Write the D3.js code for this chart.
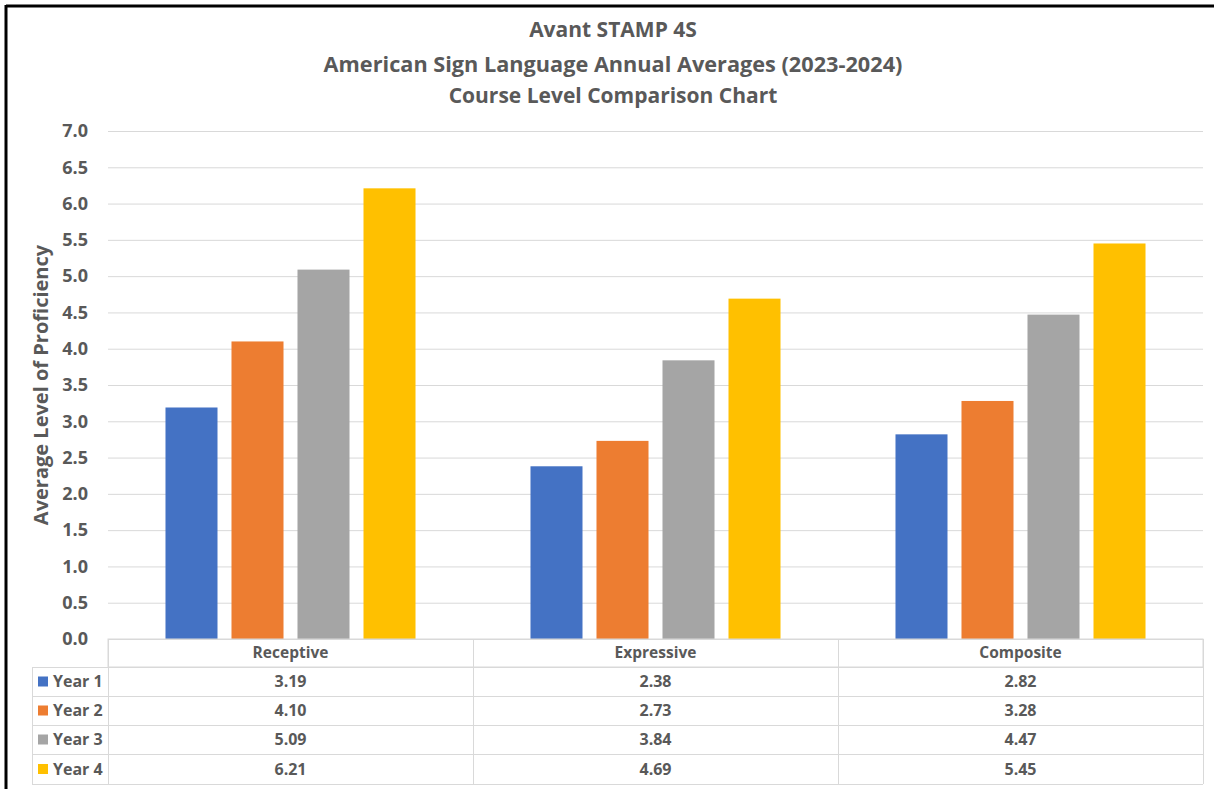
<!DOCTYPE html>
<html><head><meta charset="utf-8">
<script src="https://cdn.jsdelivr.net/npm/d3@7"></script>
<style>body{margin:0;background:#fff;} svg{display:block;font-family:"Open Sans", sans-serif;}</style>
</head><body>
<svg id="c" width="1214" height="789"></svg>
<script>
const categories = ["Receptive", "Expressive", "Composite"];
const seriesNames = ["Year 1", "Year 2", "Year 3", "Year 4"];
const year1 = [3.19, 2.38, 2.82];
const year2 = [4.10, 2.73, 3.28];
const year3 = [5.09, 3.84, 4.47];
const year4 = [6.21, 4.69, 5.45];
const seriesValues = [year1, year2, year3, year4];
const colors = ["#4472C4", "#ED7D31", "#A5A5A5", "#FFC000"];
const yTicks = [0, 0.5, 1, 1.5, 2, 2.5, 3, 3.5, 4, 4.5, 5, 5.5, 6, 6.5, 7];
const titleLines = ["Avant STAMP 4S", "American Sign Language Annual Averages (2023-2024)", "Course Level Comparison Chart"];

const svg = d3.select("#c");
const textCol = "#595959", gridCol = "#d9d9d9";
const L = 108, R = 1203, T = 131, B = 639;

// outer border (top + left)
svg.append("line").attr("x1",6).attr("x2",1214).attr("y1",6).attr("y2",6).attr("stroke","#000").attr("stroke-width",3);
svg.append("line").attr("x1",6).attr("x2",6).attr("y1",5).attr("y2",789).attr("stroke","#000").attr("stroke-width",3);

// titles
const ty = [30, 64, 96];
const tSize = [21, 21.7, 21];
titleLines.forEach((t,i)=>{
  svg.append("text").attr("x",613).attr("y",ty[i]).attr("dy","0.35em").attr("text-anchor","middle")
    .attr("font-size",tSize[i]).attr("font-weight","bold").attr("fill",textCol).text(t);
});

const y = d3.scaleLinear().domain([0,7]).range([B,T]);
const x0 = d3.scaleBand().domain(categories).range([L,R]).paddingInner(0).paddingOuter(0);
const x1 = d3.scaleBand().domain(seriesNames).range([0,x0.bandwidth()]).paddingInner(0.212).paddingOuter(0.871);

// gridlines
svg.append("g").selectAll("line").data(yTicks).join("line")
  .attr("x1",L).attr("x2",R).attr("y1",d=>y(d)+0.5).attr("y2",d=>y(d)+0.5)
  .attr("stroke",gridCol).attr("stroke-width",1);

// y axis
const yAxis = d3.axisLeft(y).tickValues(yTicks).tickFormat(d3.format(".1f")).tickSize(0).tickPadding(0);
const ga = svg.append("g").attr("transform",`translate(88,0)`).call(yAxis);
ga.select(".domain").remove();
ga.selectAll("text").attr("font-size",18).attr("font-weight","bold").attr("fill",textCol).attr("font-family","'Open Sans', sans-serif");

svg.append("text").attr("transform","translate(41,385) rotate(-90)").attr("text-anchor","middle").attr("dy","0.35em")
  .attr("font-size",20).attr("font-weight","bold").attr("fill",textCol).text("Average Level of Proficiency");

// bars
const gb = svg.append("g");
seriesValues.forEach((vals,si)=>{
  gb.selectAll(null).data(vals).join("rect")
    .attr("x",(d,ci)=>x0(categories[ci])+x1(seriesNames[si]))
    .attr("width",x1.bandwidth())
    .attr("y",d=>y(d)).attr("height",d=>B-y(d))
    .attr("fill",colors[si]);
});

// data table
const rowH = [639, 667, 696, 725, 754, 784];
const tbl = svg.append("g");
const tStroke = gridCol;
tbl.append("rect").attr("x",L).attr("y",rowH[0]).attr("width",R-L).attr("height",rowH[1]-rowH[0]).attr("fill","none").attr("stroke",tStroke);
categories.forEach(c=>{
  tbl.append("line").attr("x1",x0(c)+0.5).attr("x2",x0(c)+0.5).attr("y1",rowH[0]).attr("y2",rowH[5]).attr("stroke",tStroke);
  tbl.append("text").attr("x",x0(c)+x0.bandwidth()/2).attr("y",(rowH[0]+rowH[1])/2).attr("dy","0.35em")
    .attr("text-anchor","middle").attr("font-size",15.5).attr("font-weight","bold").attr("fill",textCol).text(c);
});
tbl.append("line").attr("x1",R+0.5).attr("x2",R+0.5).attr("y1",rowH[0]).attr("y2",rowH[5]).attr("stroke",tStroke);
tbl.append("line").attr("x1",32.5).attr("x2",32.5).attr("y1",rowH[1]).attr("y2",rowH[5]).attr("stroke",tStroke);
for(let i=1;i<=5;i++){
  tbl.append("line").attr("x1",32).attr("x2",R).attr("y1",rowH[i]+0.5).attr("y2",rowH[i]+0.5).attr("stroke",tStroke);
}
seriesNames.forEach((s,si)=>{
  const cy = (rowH[si+1]+rowH[si+2])/2;
  tbl.append("rect").attr("x",38).attr("y",cy-5).attr("width",10).attr("height",10).attr("fill",colors[si]);
  tbl.append("text").attr("x",53).attr("y",cy).attr("dy","0.35em").attr("font-size",16).attr("font-weight","bold").attr("fill",textCol).text(s);
  seriesValues[si].forEach((v,ci)=>{
    tbl.append("text").attr("x",x0(categories[ci])+x0.bandwidth()/2).attr("y",cy).attr("dy","0.35em")
      .attr("text-anchor","middle").attr("font-size",16).attr("font-weight","bold").attr("fill",textCol).text(d3.format(".2f")(v));
  });
});
</script>
</body></html>
